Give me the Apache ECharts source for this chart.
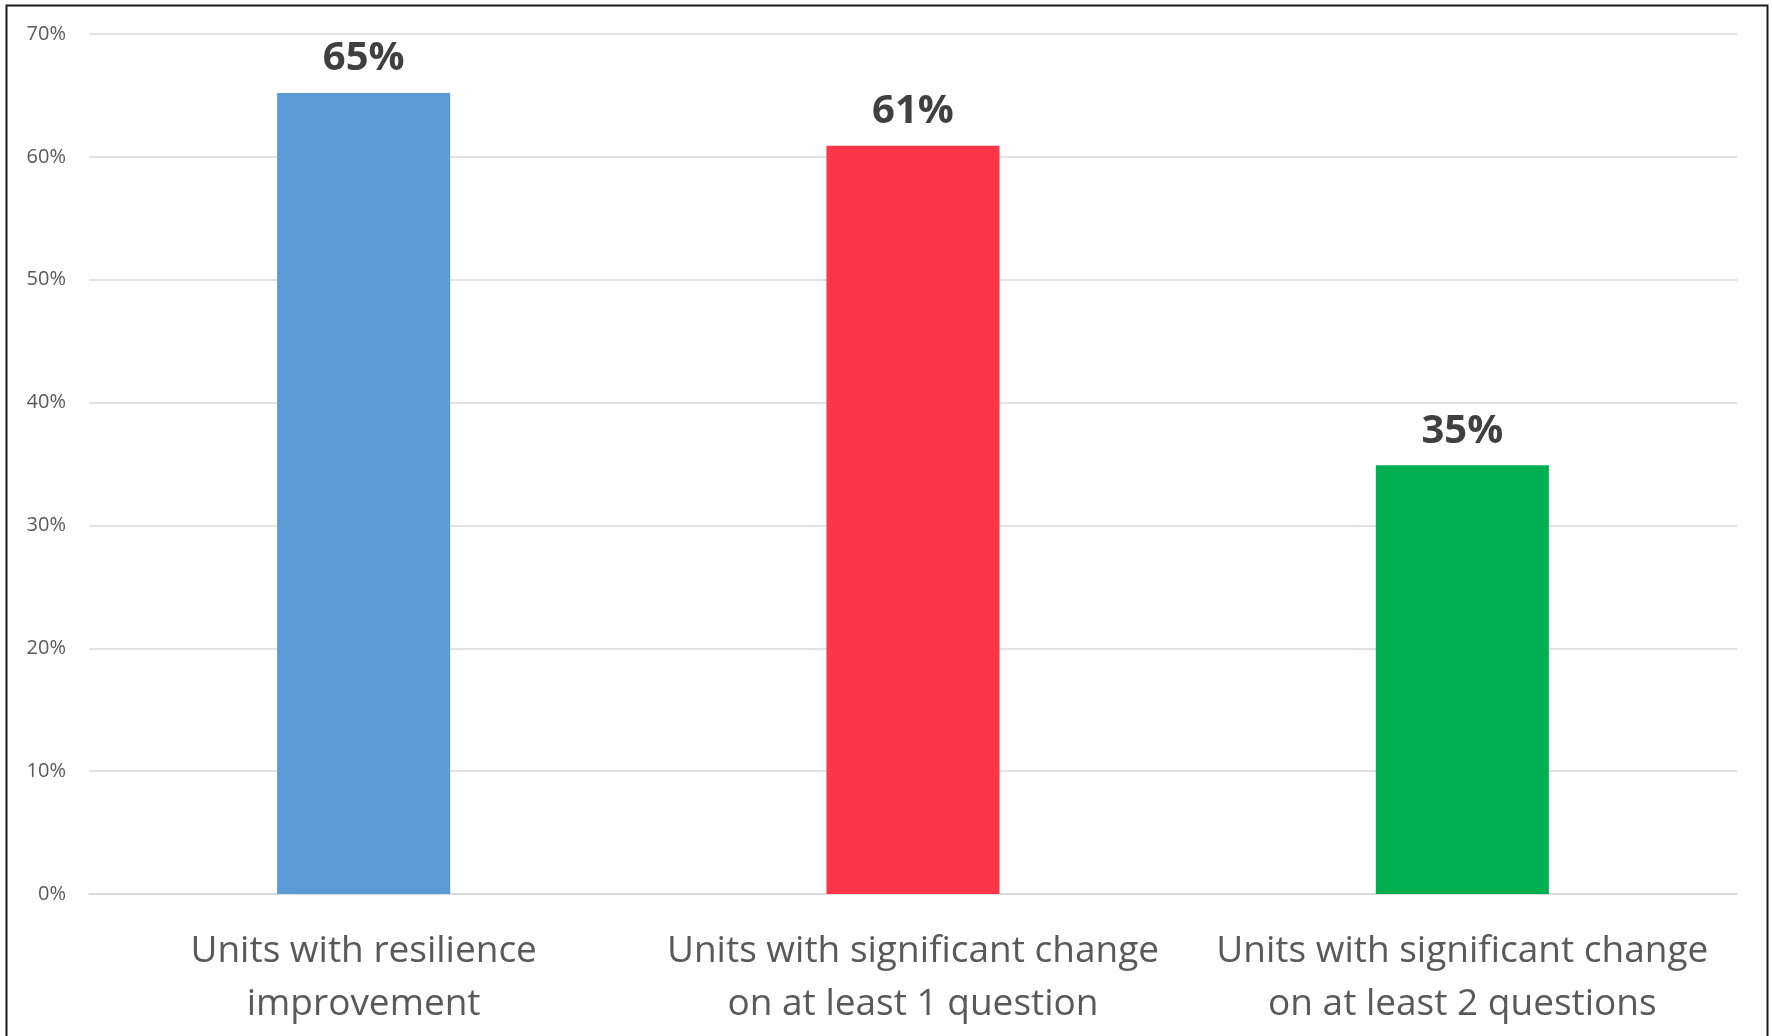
<!DOCTYPE html>
<html>
<head>
<meta charset="utf-8">
<script src="https://cdn.jsdelivr.net/npm/echarts@6/dist/echarts.min.js"></script>
<style>
html,body{margin:0;padding:0;background:#fff;}
#c{width:1772px;height:1036px;}
</style>
</head>
<body>
<div id="c"></div>
<script>
const categories = [
  "Units with resilience\nimprovement",
  "Units with significant change\non at least 1 question",
  "Units with significant change\non at least 2 questions"
];
const values = [65.2, 60.9, 34.9];
const barColors = ["#5B9BD5", "#FC3549", "#00B050"];
const yTicks = { min: 0, max: 70, interval: 10 };

const chart = echarts.init(document.getElementById('c'));
chart.setOption({
  animation: false,
  backgroundColor: '#ffffff',
  grid: { left: 89, right: 35, top: 34, bottom: 142 },
  graphic: [{
    type: 'rect',
    shape: { x: 6.5, y: 5.5, width: 1761, height: 1040 },
    style: { fill: 'none', stroke: '#1a1a1a', lineWidth: 2 },
    silent: true
  }],
  xAxis: {
    type: 'category',
    data: categories,
    axisLine: { show: true, lineStyle: { color: '#d9d9d9', width: 1.5 } },
    axisTick: { show: false },
    axisLabel: {
      color: '#595959',
      fontFamily: 'Open Sans',
      fontSize: 37,
      lineHeight: 53,
      margin: 31,
      interval: 0
    }
  },
  yAxis: {
    type: 'value',
    min: yTicks.min,
    max: yTicks.max,
    interval: yTicks.interval,
    axisLine: { show: false },
    axisTick: { show: false },
    splitLine: { lineStyle: { color: '#d9d9d9', width: 1.5 } },
    axisLabel: {
      formatter: '{value}%',
      color: '#595959',
      fontFamily: 'Open Sans',
      fontSize: 20,
      margin: 23
    }
  },
  series: [{
    type: 'bar',
    barWidth: '31.5%',
    data: values.map((v, i) => ({ value: v, itemStyle: { color: barColors[i] } })),
    label: {
      show: true,
      position: 'top',
      distance: 14,
      formatter: p => Math.round(p.value) + '%',
      color: '#404040',
      fontFamily: 'Open Sans',
      fontWeight: 'bold',
      fontSize: 40
    }
  }]
});
</script>
</body>
</html>
